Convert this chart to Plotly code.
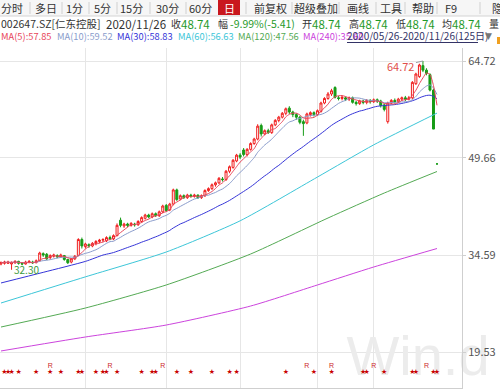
import plotly.graph_objects as go
import pandas as pd

# ------------------------------------------------------------------ data
opens = [33.2, 33.3, 33.3, 33.2, 33.4, 33.6, 33.3, 33.2, 33.5, 33.5,
         33.4, 33.7, 34.8, 34.7, 34.2, 34.4, 34.5, 34.3, 34.5, 33.9,
         33.5, 34.0, 34.5, 37.0, 35.9, 36.2, 36.0, 36.4, 36.7, 36.9,
         36.8, 37.3, 37.1, 37.6, 40.0, 39.1, 39.4, 39.2, 39.4, 39.3,
         39.8, 40.3, 40.8, 40.5, 41.0, 40.7, 41.3, 42.3, 41.6, 42.5,
         44.7, 43.3, 43.8, 43.5, 43.9, 43.7, 43.9, 43.5, 43.8, 44.6,
         44.9, 45.5, 45.8, 46.4, 46.3, 47.6, 48.2, 49.2, 50.1, 50.9,
         50.2, 51.0, 51.9, 52.6, 54.7, 53.4, 53.9, 53.6, 54.8, 55.5,
         56.0, 56.6, 57.4, 56.8, 56.4, 56.0, 55.3, 55.1, 56.4, 56.7,
         56.4, 56.9, 58.2, 58.9, 59.6, 60.6, 59.0, 58.9, 59.0, 58.8,
         59.0, 58.3, 58.1, 58.5, 58.3, 58.6, 58.4, 58.7, 58.5, 57.9,
         55.3, 58.2, 58.6, 58.4, 58.8, 59.0, 58.8, 59.0, 61.2, 62.3,
         64.0, 63.3, 62.6, 60.2, 48.74]
highs = [33.6, 33.7, 33.7, 33.6, 33.8, 33.7, 33.5, 33.7, 33.8, 33.7,
         33.9, 35.1, 35.0, 34.9, 34.7, 34.8, 34.7, 34.8, 34.6, 34.0,
         34.1, 34.6, 37.2, 37.3, 36.5, 36.4, 36.6, 36.9, 37.1, 37.2,
         37.5, 37.6, 37.8, 39.5, 40.4, 39.6, 39.6, 39.7, 39.6, 40.0,
         40.6, 41.0, 41.0, 41.2, 41.2, 41.5, 42.4, 42.5, 42.7, 44.9,
         44.9, 44.0, 44.0, 44.1, 44.1, 44.1, 44.0, 44.0, 44.8, 45.1,
         45.7, 46.0, 46.7, 46.7, 47.8, 48.5, 49.5, 50.3, 50.4, 51.2,
         51.2, 52.1, 52.8, 54.9, 55.0, 54.1, 54.2, 55.0, 55.7, 56.2,
         56.8, 57.5, 57.7, 57.0, 56.6, 56.2, 55.6, 56.7, 56.9, 56.9,
         57.2, 58.4, 59.1, 59.9, 60.4, 60.8, 59.3, 59.3, 59.2, 59.2,
         59.2, 58.5, 58.7, 58.7, 58.8, 58.8, 58.9, 58.9, 58.7, 58.1,
         58.4, 58.8, 58.9, 59.0, 59.2, 59.3, 59.3, 61.6, 62.9, 64.3,
         64.72, 63.6, 62.8, 60.4, 48.74]
lows = [33.0, 33.1, 33.2, 32.30, 33.2, 33.1, 33.0, 33.1, 33.3, 33.2,
        33.3, 33.6, 34.3, 33.8, 33.9, 34.2, 34.1, 34.2, 33.7, 33.2,
        33.3, 33.8, 34.4, 35.6, 35.6, 35.7, 35.8, 36.1, 36.4, 36.6,
        36.6, 36.9, 36.9, 37.5, 38.9, 38.8, 38.9, 39.0, 39.0, 39.1,
        39.6, 40.1, 40.3, 40.3, 40.5, 40.5, 41.1, 41.3, 41.4, 42.3,
        43.0, 43.1, 43.3, 43.3, 43.5, 43.5, 43.3, 43.3, 43.6, 44.4,
        44.7, 45.2, 45.6, 46.0, 46.1, 47.3, 48.0, 49.0, 49.5, 49.9,
        49.9, 50.8, 51.7, 52.4, 53.0, 53.2, 53.4, 53.4, 54.6, 55.2,
        55.8, 56.3, 56.5, 56.0, 55.6, 54.9, 53.1, 54.9, 56.1, 56.1,
        56.2, 56.7, 58.0, 58.7, 59.3, 58.9, 58.6, 58.6, 58.5, 58.5,
        58.1, 57.8, 57.9, 58.0, 58.0, 58.1, 58.2, 58.2, 57.5, 56.9,
        55.0, 58.0, 58.1, 58.2, 58.5, 58.5, 58.6, 58.8, 61.0, 62.1,
        63.0, 62.5, 60.0, 54.15, 48.74]
closes = [33.4, 33.5, 33.5, 33.4, 33.6, 33.3, 33.2, 33.5, 33.6, 33.4,
          33.7, 34.9, 34.6, 34.0, 34.5, 34.6, 34.3, 34.6, 33.9, 33.4,
          34.0, 34.4, 37.0, 36.0, 36.3, 36.0, 36.4, 36.7, 36.9, 37.0,
          37.3, 37.1, 37.6, 39.2, 39.2, 39.4, 39.2, 39.5, 39.3, 39.8,
          40.4, 40.8, 40.5, 41.0, 40.7, 41.3, 42.2, 41.5, 42.5, 44.7,
          43.2, 43.8, 43.5, 43.9, 43.7, 43.9, 43.5, 43.8, 44.6, 44.9,
          45.5, 45.8, 46.5, 46.3, 47.6, 48.3, 49.3, 50.1, 49.8, 50.2,
          51.0, 51.9, 52.6, 54.6, 53.4, 53.9, 53.6, 54.8, 55.5, 56.0,
          56.6, 57.3, 56.8, 56.4, 56.0, 55.2, 55.0, 56.5, 56.7, 56.4,
          57.0, 58.2, 58.9, 59.6, 60.1, 59.1, 58.9, 59.1, 58.8, 59.0,
          58.3, 58.1, 58.5, 58.3, 58.6, 58.4, 58.7, 58.5, 57.8, 57.2,
          58.2, 58.6, 58.4, 58.8, 59.0, 58.8, 59.0, 61.4, 62.7, 64.1,
          63.3, 62.8, 60.2, 54.15, 48.74]
day_idx = list(range(len(closes)))
month_start_idx = [24, 47, 68, 90, 106]          # Jul, Aug, Sep, Oct, Nov

y_tick_vals = [19.53, 34.59, 49.66, 64.72]
y_tick_text = ["19.53", "34.59", "49.66", "64.72"]

# moving averages whose look-back reaches before the visible window
ma30_head_idx = [0, 12, 24]
ma30_head = [30.25, 31.9, 33.6]
ma60_idx = [0, 24, 47, 68, 90, 106, 124]
ma60 = [27.14, 31.2, 35.06, 39.9, 46.7, 51.7, 56.63]
ma120_idx = [0, 24, 47, 71, 93, 109, 124]
ma120 = [23.41, 26.36, 29.94, 34.75, 40.34, 44.22, 47.56]
ma240_idx = [0, 24, 47, 71, 90, 106, 124]
ma240 = [19.69, 21.86, 23.72, 26.67, 29.94, 32.73, 35.6]

star_idx = [1, 2, 3, 5, 10, 14, 17, 22, 23, 27, 29, 30, 33, 40, 43, 44, 50, 54,
            60, 65, 67, 81, 89, 94, 103, 104, 109, 117, 118, 123, 124]
r_idx = [14, 31, 46, 87, 94, 106, 121]

toolbar_labels = ["分时", "多日", "1分", "5分", "15分", "30分", "60分", "日",
                  "前复权", "超级叠加", "画线", "工具", "帮助", "F9", "隐藏"]
stock_name = "002647.SZ[仁东控股]"
quote_date = "2020/11/26"
quote_close = "48.74"
quote_change = "-9.99%(-5.41)"
quote_open = "48.74"
quote_high = "48.74"
quote_low = "48.74"
quote_avg = "48.74"
ma_labels = ["MA(5):57.85", "MA(10):59.52", "MA(30):58.83", "MA(60):56.63",
             "MA(120):47.56", "MA(240):35.60"]
range_label = "2020/05/26-2020/11/26(125日)"

# ------------------------------------------------------------------ derived
cs = pd.Series(closes)
ma5 = cs.rolling(5, min_periods=1).mean().tolist()
ma10 = cs.rolling(10, min_periods=1).mean().tolist()
ma30_tail = cs.rolling(30).mean().tolist()[29:]
ma30_x = ma30_head_idx + day_idx[29:]
ma30_y = ma30_head + ma30_tail

# ------------------------------------------------------------------ geometry
W, H = 500, 390
PL, PR, PT, PB = 0, 462, 48, 388
X_LO, X_HI = -0.284, 131.11
Y_LO, Y_HI = 13.94, 66.74


def price_at(ypix):
    return Y_HI - (ypix - PT) * (Y_HI - Y_LO) / (PB - PT)


def idx_at(xpix):
    return X_LO + (xpix - PL) * (X_HI - X_LO) / (PR - PL)


def fx(x):
    return x / W


def fy(y):
    return 1 - y / H


CJK = "Noto Sans CJK SC"
UP = "#f01e1e"
DOWN = "#179c17"
GREEN_TXT = "#1f9a2a"

fig = go.Figure()

# watermark (below everything in plot)
fig.add_trace(go.Scatter(x=[idx_at(418)], y=[price_at(361)], mode="text", text=["Win.d"],
                         textfont=dict(family="Liberation Sans", size=56, color="#ececec"),
                         cliponaxis=False, hoverinfo="skip", showlegend=False))

ma_colors = ["#e8465a", "#8a9ccc", "#3535d8", "#3cc6d8", "#54aa54", "#cc44dd"]
for xs, ys, col in [(ma240_idx, ma240, ma_colors[5]), (ma120_idx, ma120, ma_colors[4]),
                    (ma60_idx, ma60, ma_colors[3]), (ma30_x, ma30_y, ma_colors[2]),
                    (day_idx, ma10, ma_colors[1]), (day_idx, ma5, ma_colors[0])]:
    fig.add_trace(go.Scatter(x=xs, y=ys, mode="lines",
                             line=dict(color=col, width=1, shape="spline", smoothing=0.6),
                             hoverinfo="skip", showlegend=False))

fig.add_trace(go.Candlestick(
    x=day_idx, open=opens, high=highs, low=lows, close=closes,
    increasing=dict(line=dict(color=UP, width=1), fillcolor="#ffffff"),
    decreasing=dict(line=dict(color=DOWN, width=1), fillcolor=DOWN),
    whiskerwidth=0, hoverinfo="skip", showlegend=False))

fig.add_trace(go.Scatter(x=star_idx, y=[price_at(372.5)] * len(star_idx), mode="text",
                         text=["★"] * len(star_idx),
                         textfont=dict(family="DejaVu Sans", size=7, color="#c80000"),
                         cliponaxis=False, hoverinfo="skip", showlegend=False))
fig.add_trace(go.Scatter(x=r_idx, y=[price_at(366)] * len(r_idx), mode="text",
                         text=["R"] * len(r_idx),
                         textfont=dict(family="Liberation Sans", size=7, color="#cc2a2a"),
                         cliponaxis=False, hoverinfo="skip", showlegend=False))

annotations = []
hi_i = highs.index(max(highs))
annotations.append(dict(x=hi_i, y=highs[hi_i], xref="x", yref="y", text=f"{highs[hi_i]:.2f}",
                        showarrow=True, arrowhead=0, arrowwidth=1, arrowcolor="#9aa0a8",
                        ax=-22, ay=5, font=dict(family=CJK, size=11, color="#e0504a")))
lo_i = lows.index(min(lows))
annotations.append(dict(x=lo_i, y=lows[lo_i], xref="x", yref="y", text=f"{lows[lo_i]:.2f}",
                        showarrow=False, xanchor="left", yanchor="middle", xshift=0,
                        font=dict(family=CJK, size=10, color="#3d9a3d")))

shapes = []
# toolbar
shapes.append(dict(type="rect", xref="paper", yref="paper", x0=0, x1=1, y0=fy(16), y1=1,
                   fillcolor="#f6f6f6", line=dict(width=0), layer="below"))
shapes.append(dict(type="line", xref="paper", yref="paper", x0=0, x1=1, y0=fy(16), y1=fy(16),
                   line=dict(color="#d4d4d4", width=1)))
for sx in [30, 62, 89, 117, 150, 186, 246, 292, 339, 376, 405, 437, 480]:
    shapes.append(dict(type="line", xref="paper", yref="paper", x0=fx(sx), x1=fx(sx),
                       y0=fy(14), y1=fy(2), line=dict(color="#d0d0d0", width=1)))
shapes.append(dict(type="rect", xref="paper", yref="paper", x0=fx(218), x1=fx(240),
                   y0=fy(15), y1=fy(0), fillcolor="#c9171e", line=dict(width=0)))
tb_x = [12, 46, 74, 102, 131, 167, 200, 229, 270, 316, 358, 391, 423, 451, 490]
for lab, cx in zip(toolbar_labels, tb_x):
    annotations.append(dict(x=fx(cx), y=fy(8), xref="paper", yref="paper", text=lab,
                            showarrow=False, xanchor="left" if lab == "隐藏" else "center",
                            yanchor="middle",
                            font=dict(family=CJK, size=11,
                                      color="#ffffff" if lab == "日" else "#333333")))

# quote row
row2 = [(stock_name, 1, "#333333", 10.5), (quote_date, 106, "#333333", 11.5),
        ("收", 171, "#333333", 10), (quote_close, 181, GREEN_TXT, 11.5),
        ("幅", 218, "#333333", 10), (quote_change, 230, GREEN_TXT, 10.5),
        ("开", 302, "#333333", 10), (quote_open, 312, GREEN_TXT, 11.5),
        ("高", 349, "#333333", 10), (quote_high, 359, GREEN_TXT, 11.5),
        ("低", 396, "#333333", 10), (quote_low, 406, GREEN_TXT, 11.5),
        ("均", 442, "#333333", 10), (quote_avg, 452, GREEN_TXT, 11.5),
        ("量", 489, "#333333", 10)]
for t, x0, col, sz in row2:
    annotations.append(dict(x=fx(x0), y=fy(23.5), xref="paper", yref="paper", text=t,
                            showarrow=False, xanchor="left", yanchor="middle",
                            xshift=-2, font=dict(family=CJK, size=sz, color=col)))

# MA row
ma_x = [1, 57, 117, 178, 238, 303]
for t, x0, col in zip(ma_labels, ma_x, ma_colors):
    annotations.append(dict(x=fx(x0), y=fy(35.5), xref="paper", yref="paper", text=t,
                            showarrow=False, xanchor="left", yanchor="middle", xshift=-2,
                            font=dict(family=CJK, size=9.3, color=col)))
annotations.append(dict(x=fx(347), y=fy(35.5), xref="paper", yref="paper", text=range_label,
                        showarrow=False, xanchor="left", yanchor="middle", xshift=-2,
                        font=dict(family=CJK, size=10, color="#333366")))
shapes.append(dict(type="line", xref="paper", yref="paper", x0=fx(347), x1=fx(478),
                   y0=fy(42.5), y1=fy(42.5), line=dict(color="#333366", width=1)))
annotations.append(dict(x=fx(488), y=fy(36), xref="paper", yref="paper", text="▼",
                        showarrow=False, xanchor="center", yanchor="middle",
                        font=dict(family="DejaVu Sans", size=9, color="#777777")))
shapes.append(dict(type="rect", xref="paper", yref="paper", x0=fx(497), x1=fx(500),
                   y0=fy(44), y1=fy(37), fillcolor="#f0a020", line=dict(width=0)))

fig.update_layout(
    width=W, height=H, autosize=False,
    margin=dict(l=0, r=0, t=0, b=0, pad=0),
    paper_bgcolor="#ffffff", plot_bgcolor="#ffffff",
    showlegend=False, boxgap=0.2,
    annotations=annotations, shapes=shapes,
    xaxis=dict(domain=[fx(PL), fx(PR)], range=[X_LO, X_HI], rangeslider=dict(visible=False),
               tickmode="array", tickvals=month_start_idx, showticklabels=False, ticks="",
               showgrid=True, gridcolor="#e6e6e6", gridwidth=1, zeroline=False,
               showline=True, linecolor="#cfcfcf", linewidth=1, fixedrange=True),
    yaxis=dict(domain=[fy(PB), fy(PT)], range=[Y_LO, Y_HI], side="right",
               tickmode="array", tickvals=y_tick_vals, ticktext=y_tick_text,
               ticks="outside", ticklen=3, tickcolor="#cfcfcf",
               tickfont=dict(family=CJK, size=11, color="#555555"),
               showgrid=True, gridcolor="#e6e6e6", gridwidth=1, zeroline=False,
               showline=True, linecolor="#cfcfcf", linewidth=1, fixedrange=True),
)

fig.write_html("out.html", config={"displayModeBar": False},
               post_script="document.body.style.margin='0';document.body.style.overflow='hidden';")
